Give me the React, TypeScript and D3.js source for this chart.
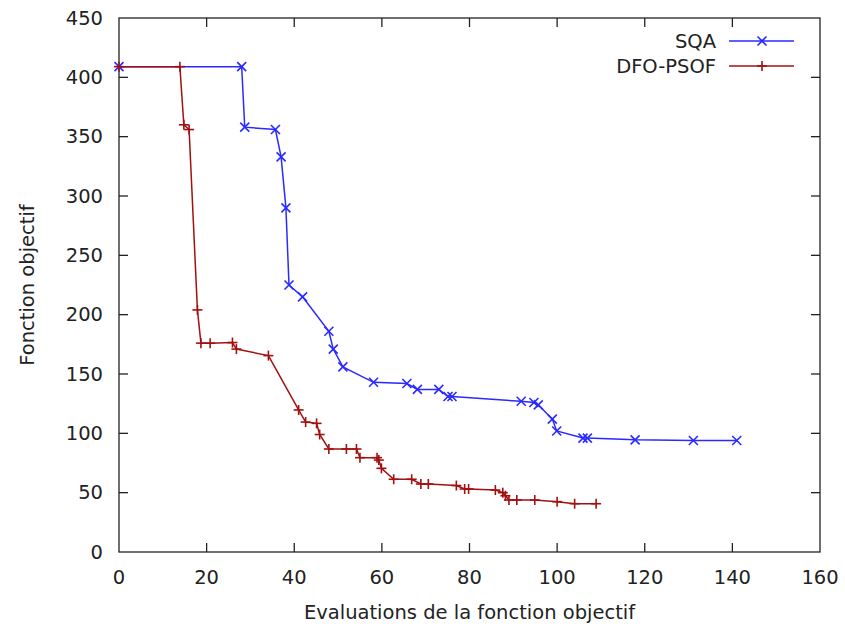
import React from "react";
import * as d3 from "d3";

const sqaX = [0, 28, 28.7, 35.7, 37, 38.1, 38.8, 41.9, 47.9, 48.9, 51.1, 58.1, 65.7, 68.1, 73, 75.1, 76, 91.8, 94.7, 95.7, 98.9, 99.9, 105.9, 106.9, 117.8, 131.1, 141];
const sqaY = [409, 409, 358, 356, 333, 290, 225, 215, 186, 171, 156, 143, 142, 137, 137, 131, 131, 127, 126, 124, 112, 102, 96, 96, 94.5, 94, 94];

const dfoX = [0, 13.9, 14.8, 16, 17.9, 18.7, 20.8, 25.9, 26.8, 34.1, 41, 42.6, 45.1, 45.8, 47.9, 51.9, 54.2, 55, 58.9, 59.3, 59.9, 62.7, 66.8, 68.9, 70.6, 77, 78.9, 79.8, 85.9, 87.6, 88.2, 89, 90.8, 94.9, 100, 104, 108.9];
const dfoY = [409, 409, 360, 356, 204, 176, 176, 176.5, 171, 165.5, 119.7, 109.5, 108.4, 99, 86.8, 86.8, 86.8, 79.5, 79.5, 77.5, 70.5, 61.3, 61.3, 57.3, 57.3, 56, 53.1, 53.1, 52.2, 50, 47.4, 43.8, 43.8, 43.8, 42.4, 40.7, 40.7];

const xTicks = [0, 20, 40, 60, 80, 100, 120, 140, 160];
const yTicks = [0, 50, 100, 150, 200, 250, 300, 350, 400, 450];

const seriesNames = ["SQA", "DFO-PSOF"];
const seriesColors = ["#2a2aff", "#a31010"];

const W = 845, H = 627;
const L = 119, R = 820, T = 18, B = 552;
const FONT = "DejaVu Sans, sans-serif";
const FS = 19.5;

function XMark({ x, y, c }: { x: number; y: number; c: string }) {
  const s = 4.5;
  return (
    <g stroke={c} strokeWidth={1.6}>
      <line x1={x - s} y1={y - s} x2={x + s} y2={y + s} />
      <line x1={x - s} y1={y + s} x2={x + s} y2={y - s} />
    </g>
  );
}
function PMark({ x, y, c }: { x: number; y: number; c: string }) {
  const s = 5;
  return (
    <g stroke={c} strokeWidth={1.6}>
      <line x1={x - s} y1={y} x2={x + s} y2={y} />
      <line x1={x} y1={y - s} x2={x} y2={y + s} />
    </g>
  );
}

export default function App() {
  const xs = d3.scaleLinear().domain([0, 160]).range([L, R]);
  const ys = d3.scaleLinear().domain([0, 450]).range([B, T]);
  const sqa = sqaX.map((x, i) => [x, sqaY[i]] as [number, number]);
  const dfo = dfoX.map((x, i) => [x, dfoY[i]] as [number, number]);
  const line = d3.line<[number, number]>().x((d) => xs(d[0])).y((d) => ys(d[1]));
  const tk = 9;

  return (
    <svg width={W} height={H} style={{ position: "absolute", left: 0, top: 0, background: "#fff" }} fontFamily={FONT}>
      <rect x={0} y={0} width={W} height={H} fill="#fff" />
      <g stroke="#222" strokeWidth={1.3}>
        {xTicks.slice(1, -1).map((t) => (
          <g key={"xt" + t}>
            <line x1={xs(t)} x2={xs(t)} y1={B} y2={B - tk} />
            <line x1={xs(t)} x2={xs(t)} y1={T} y2={T + tk} />
          </g>
        ))}
        {yTicks.slice(1, -1).map((t) => (
          <g key={"yt" + t}>
            <line x1={L} x2={L + tk} y1={ys(t)} y2={ys(t)} />
            <line x1={R} x2={R - tk} y1={ys(t)} y2={ys(t)} />
          </g>
        ))}
      </g>
      <rect x={L} y={T} width={R - L} height={B - T} fill="none" stroke="#222" strokeWidth={1.3} />
      {xTicks.map((t) => (
        <text key={"xl" + t} x={xs(t)} y={577} textAnchor="middle" dominantBaseline="central" fontSize={FS} fill="#222">
          {t}
        </text>
      ))}
      {yTicks.map((t) => (
        <text key={"yl" + t} x={103} y={ys(t)} textAnchor="end" dominantBaseline="central" fontSize={FS} fill="#222">
          {t}
        </text>
      ))}
      <text x={(L + R) / 2} y={612} textAnchor="middle" dominantBaseline="central" fontSize={FS} fill="#222">
        Evaluations de la fonction objectif
      </text>
      <text transform={`translate(27,${(T + B) / 2}) rotate(-90)`} textAnchor="middle" dominantBaseline="central" fontSize={FS} fill="#222">
        Fonction objectif
      </text>

      <path d={line(sqa) || ""} fill="none" stroke={seriesColors[0]} strokeWidth={1.5} />
      {sqa.map((d, i) => (
        <XMark key={"s" + i} x={xs(d[0])} y={ys(d[1])} c={seriesColors[0]} />
      ))}
      <path d={line(dfo) || ""} fill="none" stroke={seriesColors[1]} strokeWidth={1.5} />
      {dfo.map((d, i) => (
        <PMark key={"d" + i} x={xs(d[0])} y={ys(d[1])} c={seriesColors[1]} />
      ))}

      {seriesNames.map((n, i) => {
        const y = 41 + i * 25;
        return (
          <g key={n}>
            <text x={716} y={y} textAnchor="end" dominantBaseline="central" fontSize={FS} fill="#222">
              {n}
            </text>
            <line x1={729} x2={794} y1={y} y2={y} stroke={seriesColors[i]} strokeWidth={1.5} />
            {i === 0 ? <XMark x={762} y={y} c={seriesColors[i]} /> : <PMark x={762} y={y} c={seriesColors[i]} />}
          </g>
        );
      })}
    </svg>
  );
}
